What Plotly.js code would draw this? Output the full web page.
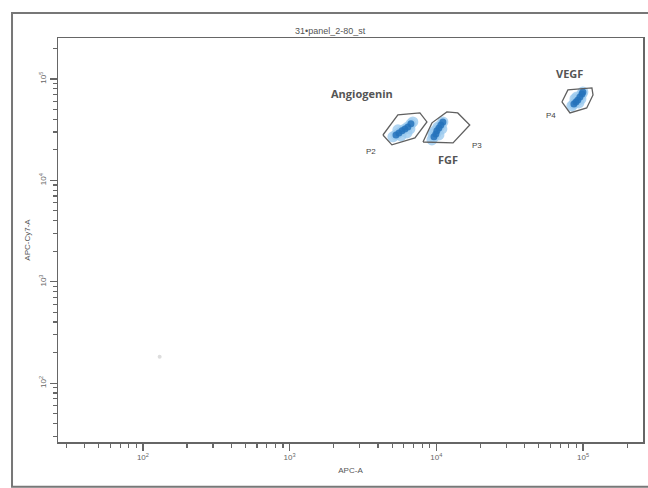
<!DOCTYPE html>
<html><head><meta charset="utf-8">
<script src="https://cdn.plot.ly/plotly-3.0.1.min.js"></script>
<style>html,body{margin:0;padding:0;background:#fff}#c{width:648px;height:488px}</style>
</head><body><div id="c"></div>
<script>
// ---- data ----
const chartTitle = "31\u2022panel_2-80_st";
const xTitle = "APC-A";
const yTitle = "APC-Cy7-A";
const decadeVals = [100, 1000, 10000, 100000];
const decadeText = ["10<sup>2</sup>", "10<sup>3</sup>", "10<sup>4</sup>", "10<sup>5</sup>"];

// events per population (APC-A, APC-Cy7-A)
const p2X = [5058, 5309, 5559, 5834, 6109, 6397, 6714, 6918, 5470, 6310, 5741, 6607];
const p2Y = [26850, 28050, 29380, 30760, 32140, 33650, 36060, 37670, 31480, 29380, 27420, 32140];
const p3X = [9333, 9638, 9931, 10090, 10420, 10740, 11090, 9772, 10420, 10250, 9484, 10910];
const p3Y = [25060, 26850, 28710, 30760, 32890, 35240, 37670, 30760, 28050, 33650, 28710, 32140];
const p4X = [83950, 86700, 89540, 92260, 95280, 98400, 99770, 88100, 93760, 90780, 96830];
const p4Y = [54200, 56750, 59290, 62090, 66530, 71120, 74470, 63530, 58070, 66530, 63530];
const strayX = [130];
const strayY = [182];

// gates
const gateP2X = [4325, 5470, 7730, 8630, 7150, 4980];
const gateP2Y = [28000, 44200, 46200, 37700, 26200, 22400];
const gateP3X = [8110, 9340, 11800, 14000, 16900, 13000];
const gateP3Y = [23900, 36900, 47300, 46200, 35200, 23400];
const gateP4X = [71800, 78900, 115000, 117000, 106000, 81500];
const gateP4Y = [59300, 78000, 81500, 69500, 51800, 46200];

// labels
const gateNames = ["P2", "P3", "P4"];
const gateNameX = [3580, 18900, 60400];
const gateNameY = [19100, 21900, 43200];
const markerNames = ["Angiogenin", "FGF", "VEGF"];
const markerNameX = [3110, 12000, 81500];
const markerNameY = [71100, 15900, 112000];

// ---- build ----
function minorTicks(lo, hi) {
  const out = [];
  for (let d = lo; d <= hi; d++) {
    for (let m = 2; m <= 9; m++) out.push(m * Math.pow(10, d));
  }
  return out;
}
const minorVals = minorTicks(1, 5);

const halo = '#9ccbef', core = '#2472bb';
function cluster(xs, ys, name) {
  return [
    {type: 'scatter', mode: 'markers', x: xs, y: ys, name: name,
     marker: {color: halo, size: 11, opacity: 0.8}, hoverinfo: 'x+y'},
    {type: 'scatter', mode: 'markers', x: xs.slice(1, 7), y: ys.slice(1, 7), name: name,
     marker: {color: core, size: 7, opacity: 0.85}, hoverinfo: 'x+y'}
  ];
}
function gate(xs, ys) {
  return {type: 'scatter', mode: 'lines', x: xs.concat([xs[0]]), y: ys.concat([ys[0]]),
    line: {color: '#606060', width: 1.3}, hoverinfo: 'skip'};
}

const traces = [].concat(
  cluster(p2X, p2Y, 'P2'), cluster(p3X, p3Y, 'P3'), cluster(p4X, p4Y, 'P4'),
  [{type: 'scatter', mode: 'markers', x: strayX, y: strayY, marker: {color: '#ddd', size: 4}}],
  [gate(gateP2X, gateP2Y), gate(gateP3X, gateP3Y), gate(gateP4X, gateP4Y)]
);

const annotations = [];
gateNames.forEach((t, i) => annotations.push({x: Math.log10(gateNameX[i]), y: Math.log10(gateNameY[i]),
  text: t, showarrow: false, font: {family: 'Liberation Sans, Arial', size: 8, color: '#444'}}));
markerNames.forEach((t, i) => annotations.push({x: Math.log10(markerNameX[i]), y: Math.log10(markerNameY[i]),
  text: '<b>' + t + '</b>', showarrow: false, font: {family: 'Open Sans, Liberation Sans', size: 11, color: '#555'}}));
annotations.push({xref: 'paper', yref: 'paper', x: 0.465, y: 1.0, yanchor: 'bottom', yshift: 0,
  text: chartTitle, showarrow: false, font: {family: 'Liberation Sans, Arial', size: 9, color: '#555'}});

const axisCommon = {
  type: 'log', showgrid: false, zeroline: false, showline: true, linecolor: '#666', linewidth: 1.5,
  mirror: true, ticks: 'outside', ticklen: 7, tickwidth: 1.2, tickcolor: '#666',
  tickvals: decadeVals, ticktext: decadeText,
  tickfont: {family: 'Liberation Sans, Arial', size: 8, color: '#666'},
  minor: {tickvals: minorVals, ticks: 'outside', ticklen: 4, tickcolor: '#666', tickwidth: 1.2}
};

const layout = {
  width: 648, height: 488,
  margin: {l: 58, r: 5, t: 38, b: 46},
  paper_bgcolor: '#fff', plot_bgcolor: '#fff',
  showlegend: false,
  xaxis: Object.assign({}, axisCommon, {range: [1.421, 5.409],
    title: {text: xTitle, standoff: 6, font: {family: 'Liberation Sans, Arial', size: 8, color: '#555'}}}),
  yaxis: Object.assign({}, axisCommon, {range: [1.419, 5.404], tickangle: -90,
    title: {text: yTitle, standoff: 6, font: {family: 'Liberation Sans, Arial', size: 8, color: '#555'}}}),
  annotations: annotations,
  shapes: [
    {type: 'rect', xref: 'paper', yref: 'paper', x0: -0.0786, x1: 1.03, y0: -0.111, y1: 1.062,
     line: {color: '#777', width: 2}, layer: 'below'}
  ]
};

Plotly.newPlot('c', traces, layout, {staticPlot: true, displayModeBar: false});
</script></body></html>
